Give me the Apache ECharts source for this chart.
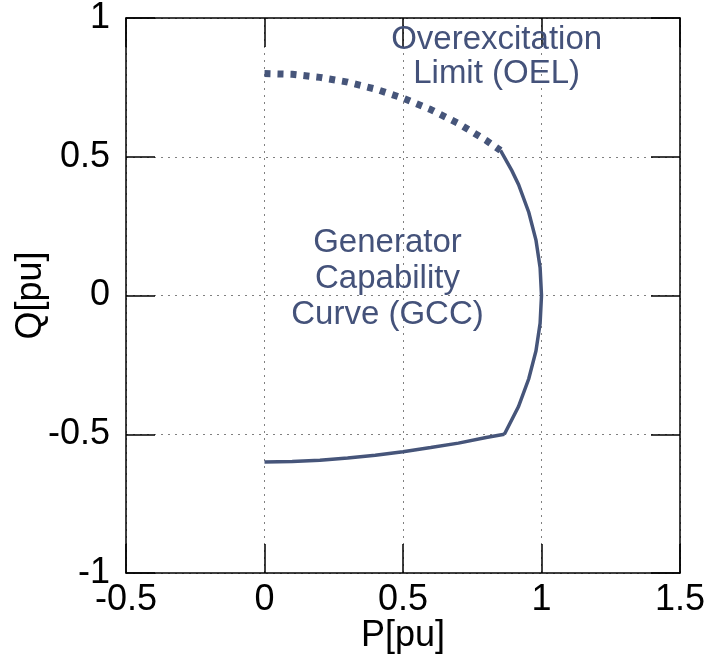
<!DOCTYPE html>
<html>
<head>
<meta charset="utf-8">
<script src="https://cdn.jsdelivr.net/npm/echarts@6/dist/echarts.min.js"></script>
<style>
html,body{margin:0;padding:0;background:#fff;}
#chart{width:710px;height:658px;}
</style>
</head>
<body>
<div id="chart"></div>
<script>
// Over-excitation limit (dotted)
var oelP = [0, 0.1, 0.2, 0.3, 0.4, 0.5, 0.6, 0.7, 0.8, 0.852];
var oelQ = [0.800, 0.797, 0.786, 0.769, 0.744, 0.711, 0.670, 0.620, 0.559, 0.523];
// Generator capability curve: armature arc
var arcP = [0.852, 0.893, 0.917, 0.954, 0.980, 0.995, 1.000, 0.995, 0.980, 0.954, 0.917, 0.866];
var arcQ = [0.523, 0.45, 0.4, 0.3, 0.2, 0.1, 0, -0.1, -0.2, -0.3, -0.4, -0.5];
// Generator capability curve: lower (under-excitation) part
var lowP = [0.866, 0.8, 0.7, 0.6, 0.5, 0.4, 0.3, 0.2, 0.1, 0];
var lowQ = [-0.5, -0.512, -0.532, -0.548, -0.563, -0.576, -0.586, -0.594, -0.598, -0.600];
// axis ticks
var xTicks = [-0.5, 0, 0.5, 1, 1.5];
var yTicks = [-1, -0.5, 0, 0.5, 1];
// annotations
var noteText = ['Overexcitation\nLimit (OEL)', 'Generator\nCapability\nCurve (GCC)'];
var noteP = [0.838, 0.444];
var noteQ = [0.859, 0.058];
var noteLineHeight = [34, 36];

function pairs(a, b) { return a.map(function (v, i) { return [v, b[i]]; }); }

var FONT = "'Liberation Sans', Arial, Helvetica, sans-serif";
var LINE = '#46557a';
var TEXT = '#44527a';

var chart = echarts.init(document.getElementById('chart'), null, {renderer: 'canvas'});

function baseX(extra) {
  return Object.assign({
    type: 'value', min: xTicks[0], max: xTicks[xTicks.length - 1], interval: 0.5,
    axisLine: {show: true, onZero: false, lineStyle: {color: '#000', width: 1.5}},
    axisTick: {show: true, inside: true, length: 29, lineStyle: {color: '#000', width: 1.5}},
    splitLine: {show: false}
  }, extra);
}
function baseY(extra) {
  return Object.assign({
    type: 'value', min: yTicks[0], max: yTicks[yTicks.length - 1], interval: 0.5,
    axisLine: {show: true, onZero: false, lineStyle: {color: '#000', width: 1.5}},
    axisTick: {show: true, inside: true, length: 29, lineStyle: {color: '#000', width: 1.5}},
    splitLine: {show: false}
  }, extra);
}

var option = {
  animation: false,
  backgroundColor: '#fff',
  grid: {left: 126, right: 30, top: 18, bottom: 85, containLabel: false, outerBoundsMode: 'none'},
  xAxis: [
    baseX({
      position: 'bottom',
      name: 'P[pu]', nameLocation: 'middle', nameGap: 45, nameMoveOverlap: false,
      nameTextStyle: {fontFamily: FONT, fontSize: 36, color: '#000'},
      axisLabel: {show: true, margin: 9, fontFamily: FONT, fontSize: 36, color: '#000',
        hideOverlap: false, formatter: function (v) { return String(v); }},
      splitLine: {show: true, lineStyle: {color: '#808080', width: 1, type: [2, 5]}}
    }),
    baseX({position: 'top', axisLabel: {show: false}})
  ],
  yAxis: [
    baseY({
      position: 'left',
      name: 'Q[pu]', nameLocation: 'middle', nameGap: 77, nameRotate: 90, nameMoveOverlap: false,
      nameTextStyle: {fontFamily: FONT, fontSize: 36, color: '#000'},
      axisLabel: {show: true, margin: 16, fontFamily: FONT, fontSize: 36, color: '#000',
        hideOverlap: false, formatter: function (v) { return String(v); }},
      splitLine: {show: true, lineStyle: {color: '#808080', width: 1, type: [2, 5]}}
    }),
    baseY({position: 'right', axisLabel: {show: false}})
  ],
  series: [
    {
      name: 'OEL', type: 'line', xAxisIndex: 0, yAxisIndex: 0,
      data: pairs(oelP, oelQ), showSymbol: false, symbol: 'none',
      lineStyle: {color: LINE, width: 7, type: [6, 7], cap: 'butt', opacity: 1}
    },
    {
      name: 'GCC arc', type: 'line', xAxisIndex: 0, yAxisIndex: 0,
      data: pairs(arcP, arcQ), showSymbol: false, symbol: 'none',
      lineStyle: {color: LINE, width: 3.5, join: 'miter', opacity: 1}
    },
    {
      name: 'GCC lower', type: 'line', xAxisIndex: 0, yAxisIndex: 0,
      data: pairs(lowP, lowQ), showSymbol: false, symbol: 'none',
      lineStyle: {color: LINE, width: 3.5, opacity: 1}
    },
    {
      name: 'notes', type: 'scatter', xAxisIndex: 0, yAxisIndex: 0,
      symbol: 'circle', symbolSize: 1, itemStyle: {color: 'rgba(0,0,0,0)', opacity: 1}, silent: true,
      data: noteText.map(function (t, i) {
        return {value: [noteP[i], noteQ[i]], name: t, label: {lineHeight: noteLineHeight[i]}};
      }),
      label: {
        show: true, position: 'inside', align: 'center', verticalAlign: 'middle',
        formatter: function (p) { return p.name; },
        fontFamily: FONT, fontSize: 33, lineHeight: 35, color: TEXT, opacity: 1
      },
      labelLayout: {hideOverlap: false},
      z: 5
    }
  ]
};
chart.setOption(option);
</script>
</body>
</html>
